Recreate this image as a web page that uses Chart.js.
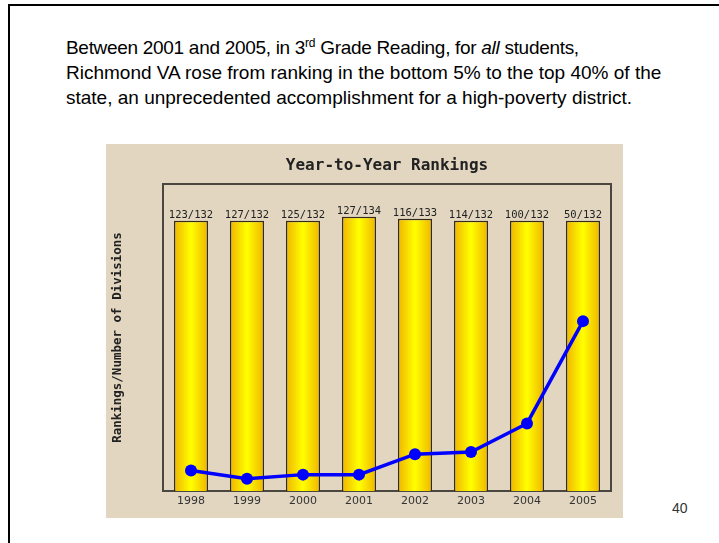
<!DOCTYPE html>
<html>
<head>
<meta charset="utf-8">
<script src="https://cdn.jsdelivr.net/npm/chart.js@4"></script>
<style>
  html, body { margin: 0; padding: 0; background: #fff; }
  body { width: 719px; height: 543px; position: relative; overflow: hidden; }
  #frame { position: absolute; left: 8px; top: 4px; width: 760px; height: 600px; border: 2px solid #000; box-sizing: border-box; }
  #caption { position: absolute; left: 66px; top: 35px; font-family: "Liberation Sans", Arial, sans-serif; font-size: 19px; line-height: 25px; color: #000; white-space: nowrap; }
  #caption sup { font-size: 12px; line-height: 0; }
  #caption .l1 { letter-spacing: -0.3px; }
  #box { position: absolute; left: 106px; top: 144px; width: 517px; height: 374px; background: #e2d6c0; }
  #pageno { position: absolute; left: 672px; top: 500px; font-family: "Liberation Sans", Arial, sans-serif; font-size: 14px; color: #333; }
</style>
</head>
<body>
<div id="frame"></div>
<div id="caption">
  <span class="l1">Between 2001 and 2005, in 3<sup>rd</sup> Grade Reading, for <i>all</i> students,</span><br>
  <span>Richmond VA rose from ranking in the bottom 5% to the top 40% of the</span><br>
  <span>state, an unprecedented accomplishment for a high-poverty district.</span>
</div>
<div id="box"><canvas id="chart" width="517" height="374"></canvas></div>
<div id="pageno">40</div>

<script>
const years = ['1998', '1999', '2000', '2001', '2002', '2003', '2004', '2005'];
const ranks = [123, 127, 125, 127, 116, 114, 100, 50];
const divisions = [132, 132, 132, 134, 133, 132, 132, 132];
// height of the blue line above the axis
const lineValues = [10, 6, 8, 8, 18, 19, 33, 83];

const chartTitle = 'Year-to-Year Rankings';
const yTitle = 'Rankings/Number of Divisions';
const barFrac = 0.61;

// gradient for each bar: golden edges, bright yellow in the middle
function barFill(ctx) {
  const chart = ctx.chart;
  if (!chart.chartArea || ctx.type !== 'data') return '#ffd700';
  const x = chart.scales.x;
  const xc = x.getPixelForValue(ctx.dataIndex);
  const half = x.width / years.length * barFrac / 2;
  const g = chart.ctx.createLinearGradient(xc - half, 0, xc + half, 0);
  g.addColorStop(0, '#f0b400');
  g.addColorStop(0.5, '#ffff00');
  g.addColorStop(1, '#f0b400');
  return g;
}

const decor = {
  id: 'decor',
  beforeDatasetsDraw(chart) {
    const { ctx, chartArea: a } = chart;
    ctx.save();
    ctx.strokeStyle = '#4a4740';
    ctx.lineWidth = 2;
    ctx.strokeRect(a.left, a.top, a.right - a.left, a.bottom - a.top);
    ctx.restore();
  },
  afterDraw(chart) {
    const { ctx, chartArea: a } = chart;
    ctx.save();
    ctx.fillStyle = '#222';
    ctx.textAlign = 'center';
    ctx.textBaseline = 'middle';
    ctx.font = 'bold 16px "DejaVu Sans Mono"';
    ctx.fillText(chartTitle, (a.left + a.right) / 2, 22);

    ctx.font = '10.5px "DejaVu Sans Mono"';
    ctx.textBaseline = 'alphabetic';
    const meta = chart.getDatasetMeta(1);
    meta.data.forEach((bar, i) => {
      ctx.fillText(ranks[i] + '/' + divisions[i], bar.x, bar.y - 3);
    });
    ctx.restore();
  }
};

new Chart(document.getElementById('chart').getContext('2d'), {
  data: {
    labels: years,
    datasets: [{
      type: 'line',
      data: lineValues,
      borderColor: '#0000ff',
      borderWidth: 3.5,
      pointRadius: 6,
      pointBackgroundColor: '#0000ff',
      pointBorderWidth: 0,
      tension: 0,
      order: 0
    }, {
      type: 'bar',
      data: divisions,
      backgroundColor: barFill,
      borderColor: '#332c1c',
      borderWidth: 1.5,
      barPercentage: barFrac,
      categoryPercentage: 1,
      order: 1
    }]
  },
  options: {
    responsive: false,
    animation: false,
    devicePixelRatio: 1,
    layout: { padding: { top: 40, right: 12, left: 0, bottom: 0 } },
    plugins: {
      legend: { display: false },
      tooltip: { enabled: false }
    },
    scales: {
      x: {
        grid: { display: false, drawTicks: false },
        border: { display: false },
        ticks: { color: '#333', padding: 4, font: { family: 'DejaVu Sans', size: 11 } },
        afterFit: s => { s.height = 27; }
      },
      y: {
        min: 0,
        max: 150,
        grid: { display: false, drawTicks: false },
        border: { display: false },
        ticks: { display: false },
        title: {
          display: true,
          text: yTitle,
          color: '#222',
          font: { family: 'DejaVu Sans Mono', size: 12.5, weight: 'bold' }
        },
        afterFit: s => { s.width = 57; }
      }
    }
  },
  plugins: [decor]
});
</script>
</body>
</html>
